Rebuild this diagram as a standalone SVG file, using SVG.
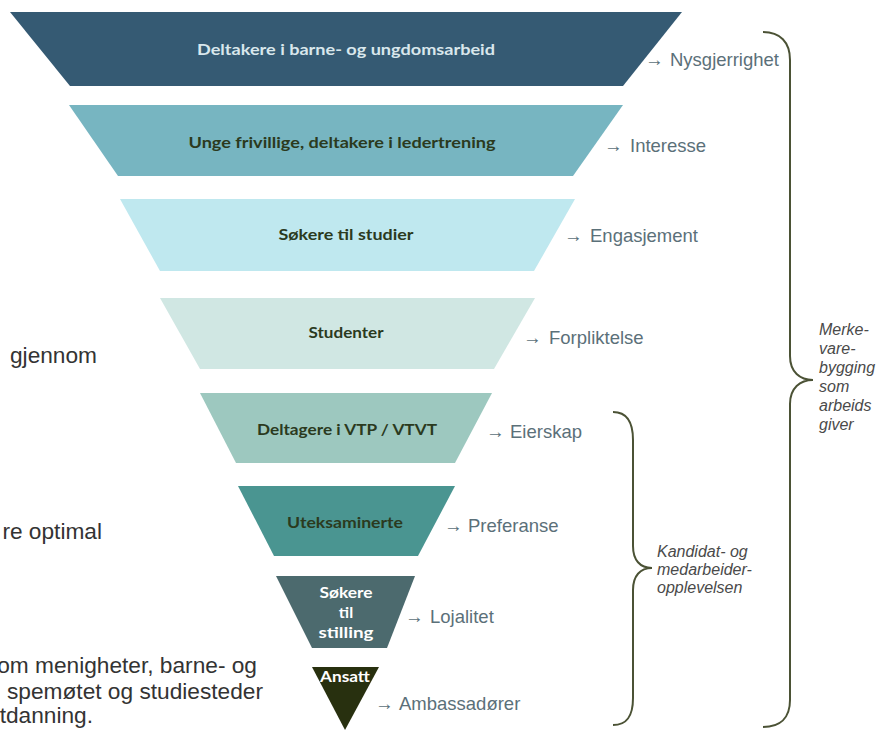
<svg xmlns="http://www.w3.org/2000/svg" width="881" height="730" viewBox="0 0 881 730">
<style>
.in{font-family:Lato,"Open Sans","Liberation Sans",sans-serif;font-weight:bold;font-size:16px;text-anchor:middle}
.dk{fill:#2b3a1e}
.lt{fill:#ffffff}
.lbl{font-family:"Liberation Sans",Arial,sans-serif;font-size:18.5px;fill:#5b7079}
.side{font-family:"Liberation Sans",Arial,sans-serif;font-size:22.7px;fill:#333333;text-anchor:end}
.it{font-family:"Liberation Sans",Arial,sans-serif;font-size:16px;font-style:italic;fill:#4a4a4a}
.brace{fill:none;stroke:#4b5235;stroke-width:2}
</style>
<rect width="881" height="730" fill="#ffffff"/>
<g id="side-text">
<text class="side" x="97" y="363">gjennom</text>
<text class="side" x="102" y="539">re optimal</text>
<text class="side" x="257" y="673">om menigheter, barne- og</text>
<text class="side" x="263" y="699">spemøtet og studiesteder</text>
<text class="side" x="93" y="723">tdanning.</text>
</g>
<g id="n1">
<polygon points="10,12 682,12 623,86 70,86" fill="#355a73"/>
<text class="in" x="346" y="55" fill="#d9e7ec" textLength="298" lengthAdjust="spacingAndGlyphs">Deltakere i barne- og ungdomsarbeid</text>
</g>
<g id="n2">
<polygon points="69,105 623,105 573,176 118,176" fill="#77b5c1"/>
<text class="in dk" x="342" y="148" textLength="307" lengthAdjust="spacingAndGlyphs">Unge frivillige, deltakere i ledertrening</text>
</g>
<g id="n3">
<polygon points="120,199 575,199 534,271 160,271" fill="#bfe8ef"/>
<text class="in dk" x="346" y="240" textLength="135" lengthAdjust="spacingAndGlyphs">Søkere til studier</text>
</g>
<g id="n4">
<polygon points="160,298 535,298 494,369 200,369" fill="#d0e7e3"/>
<text class="in dk" x="346" y="338" textLength="75" lengthAdjust="spacingAndGlyphs">Studenter</text>
</g>
<g id="n5">
<polygon points="200,393 492,393 455,463 236,463" fill="#9dc8bf"/>
<text class="in dk" x="347" y="435" textLength="180" lengthAdjust="spacingAndGlyphs">Deltagere i VTP / VTVT</text>
</g>
<g id="n6">
<polygon points="238,486 455,486 418,556 274,556" fill="#4a9591"/>
<text class="in dk" x="345" y="528" textLength="116" lengthAdjust="spacingAndGlyphs">Uteksaminerte</text>
</g>
<g id="n7">
<polygon points="276,576 415,576 387,648 312,648" fill="#4c6a6e"/>
<text class="in lt" x="346" y="598" textLength="53" lengthAdjust="spacingAndGlyphs">Søkere</text>
<text class="in lt" x="346" y="618">til</text>
<text class="in lt" x="346" y="638" textLength="55" lengthAdjust="spacingAndGlyphs">stilling</text>
</g>
<g id="n8">
<polygon points="312,667 379,667 345,730" fill="#28300f"/>
<text class="in lt" x="345" y="682" textLength="50" lengthAdjust="spacingAndGlyphs">Ansatt</text>
</g>
<g id="labels">
<text class="lbl" x="645" y="66">→<tspan x="670">Nysgjerrighet</tspan></text>
<text class="lbl" x="604" y="152">→<tspan x="630">Interesse</tspan></text>
<text class="lbl" x="564" y="242">→<tspan x="590">Engasjement</tspan></text>
<text class="lbl" x="523" y="344">→<tspan x="549">Forpliktelse</tspan></text>
<text class="lbl" x="486" y="438">→<tspan x="510">Eierskap</tspan></text>
<text class="lbl" x="444" y="532">→<tspan x="468">Preferanse</tspan></text>
<text class="lbl" x="405" y="623">→<tspan x="430">Lojalitet</tspan></text>
<text class="lbl" x="375" y="710">→<tspan x="399">Ambassadører</tspan></text>
</g>
<g id="connectors">
<path class="brace" d="M763,32 C780,32 790,42 790,60 L790,356 C790,372 800,380 813,380 C800,380 790,388 790,404 L790,700 C790,718 780,727 763,727"/>
<path class="brace" d="M613,412 C627,412 633,422 633,440 L633,546 C633,560 640,568 652,568 C640,568 633,576 633,590 L633,698 C633,716 627,725 613,725"/>
</g>
<g id="brace-labels">
<text class="it" x="819" y="335">Merke-</text>
<text class="it" x="819" y="354">vare-</text>
<text class="it" x="819" y="373">bygging</text>
<text class="it" x="819" y="392">som</text>
<text class="it" x="819" y="411">arbeids</text>
<text class="it" x="819" y="430">giver</text>
<text class="it" x="657" y="557">Kandidat- og</text>
<text class="it" x="657" y="575">medarbeider-</text>
<text class="it" x="657" y="593">opplevelsen</text>
</g>
</svg>
